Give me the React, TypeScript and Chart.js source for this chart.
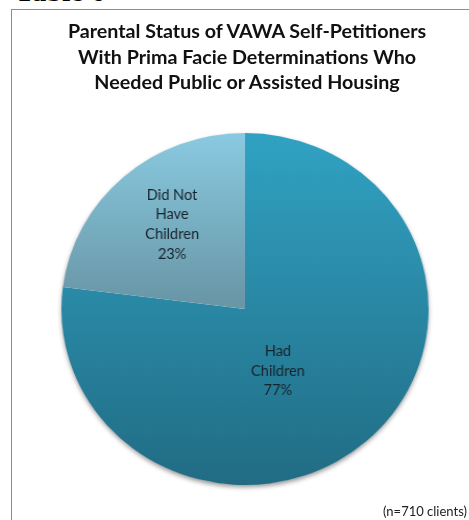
import React, { useEffect, useRef } from "react";
import { Chart, registerables } from "chart.js";

Chart.register(...registerables);

const TITLE_LINES = [
  "Parental Status of VAWA Self-Petitioners",
  "With Prima Facie Determinations Who",
  "Needed Public or Assisted Housing",
];
const CATEGORIES = ["Had Children", "Did Not Have Children"];
const LABEL_LINES = [
  ["Had", "Children"],
  ["Did Not", "Have", "Children"],
];
const PERCENTS = [77, 23];
const FOOTNOTE = "(n=710 clients)";
const TABLE_CAPTION = "Table 6";

// styling
const SX = 1.043; // horizontal stretch of the pie
const SLICE_GRAD = [
  { top: "#31A2C3", bottom: "#216C84", toCenter: false },
  { top: "#8ACAE1", bottom: "#6997A7", toCenter: true },
];
const LABEL_POS = [
  { frac: 0.395, angleOffset: 14.4 },
  { frac: 0.623, angleOffset: 1.8 },
];
const LABEL_FONT = "14.6px Lato";
const LABEL_LINE_H = 19.7;
const LABEL_COLOR = "#17232B";

const shadowPlugin = {
  id: "pieShadow",
  beforeDatasetsDraw(chart: any) {
    const meta = chart.getDatasetMeta(0);
    const arc = meta.data[0];
    if (!arc) return;
    const { x, y, outerRadius } = arc.getProps(["x", "y", "outerRadius"], true);
    const ctx = chart.ctx;
    ctx.save();
    ctx.shadowColor = "rgba(0,0,0,0.45)";
    ctx.shadowBlur = 5;
    ctx.shadowOffsetY = 2.5;
    ctx.fillStyle = "#ffffff";
    ctx.beginPath();
    ctx.arc(x, y, outerRadius - 0.5, 0, Math.PI * 2);
    ctx.fill();
    ctx.restore();
  },
};

const labelPlugin = {
  id: "sliceLabels",
  afterDatasetsDraw(chart: any) {
    const ctx = chart.ctx;
    const meta = chart.getDatasetMeta(0);
    meta.data.forEach((arc: any, i: number) => {
      const p = arc.getProps(["x", "y", "startAngle", "endAngle", "outerRadius"], true);
      const pos = LABEL_POS[i];
      const mid = (p.startAngle + p.endAngle) / 2 + (pos.angleOffset * Math.PI) / 180;
      const px = p.x + Math.cos(mid) * p.outerRadius * pos.frac;
      const py = p.y + Math.sin(mid) * p.outerRadius * pos.frac;
      const lines = [...LABEL_LINES[i], PERCENTS[i] + "%"];
      ctx.save();
      ctx.translate(px, py);
      ctx.scale(1 / SX, 1);
      ctx.font = LABEL_FONT;
      ctx.fillStyle = LABEL_COLOR;
      ctx.textAlign = "center";
      ctx.textBaseline = "middle";
      const start = -((lines.length - 1) * LABEL_LINE_H) / 2;
      lines.forEach((t, j) => ctx.fillText(t, 0, start + j * LABEL_LINE_H));
      ctx.restore();
    });
  },
};

export default function App() {
  const ref = useRef<HTMLCanvasElement | null>(null);
  useEffect(() => {
    if (!ref.current) return;
    const chart = new Chart(ref.current, {
      type: "pie",
      data: {
        labels: CATEGORIES,
        datasets: [
          {
            data: PERCENTS,
            borderWidth: 0,
            backgroundColor: (c: any) => {
              const chart = c.chart;
              const area = chart.chartArea;
              const g = SLICE_GRAD[c.dataIndex] || SLICE_GRAD[0];
              if (!area) return g.top;
              const cy = (area.top + area.bottom) / 2;
              const bottom = g.toCenter ? cy - 8 : area.bottom;
              const grad = chart.ctx.createLinearGradient(0, area.top, 0, bottom);
              grad.addColorStop(0, g.top);
              grad.addColorStop(1, g.bottom);
              return grad;
            },
          },
        ],
      },
      options: {
        responsive: false,
        animation: false,
        layout: { padding: { left: 69, right: 48, top: 133, bottom: 35 } },
        plugins: {
          legend: { display: false },
          tooltip: { enabled: false },
          title: { display: false },
        },
      },
      plugins: [shadowPlugin, labelPlugin],
    } as any);
    return () => chart.destroy();
  }, []);

  return (
    <div
      style={{
        position: "fixed",
        left: 0,
        top: 0,
        width: 469,
        height: 520,
        overflow: "hidden",
        background: "#ffffff",
      }}
    >
      <div
        style={{
          position: "absolute",
          left: 15,
          top: -23,
          fontFamily: "'Liberation Serif', serif",
          fontWeight: "bold",
          fontSize: 29,
          lineHeight: "29px",
          whiteSpace: "nowrap",
          color: "#000",
        }}
      >
        {TABLE_CAPTION}
      </div>
      <div
        style={{
          position: "absolute",
          left: 11,
          top: 9,
          width: 480,
          height: 540,
          border: "1.5px solid #8c8c8c",
          boxSizing: "border-box",
        }}
      />
      <canvas
        ref={ref}
        width={469}
        height={520}
        style={{
          position: "absolute",
          left: 0,
          top: 0,
          width: 469,
          height: 520,
          transform: `scaleX(${SX})`,
          transformOrigin: "245px 50%",
        }}
      />
      <div
        style={{
          position: "absolute",
          left: 47,
          top: 18,
          width: 400,
          textAlign: "center",
          fontFamily: "Lato, sans-serif",
          fontWeight: "bold",
          fontSize: 19.7,
          lineHeight: "25.5px",
          color: "#111",
          whiteSpace: "nowrap",
        }}
      >
        {TITLE_LINES.map((t, i) => (
          <div key={i}>{t}</div>
        ))}
      </div>
      <div
        style={{
          position: "absolute",
          right: 2,
          top: 503,
          fontFamily: "Lato, sans-serif",
          fontSize: 13,
          lineHeight: "16px",
          color: "#222",
          whiteSpace: "nowrap",
        }}
      >
        {FOOTNOTE}
      </div>
    </div>
  );
}
